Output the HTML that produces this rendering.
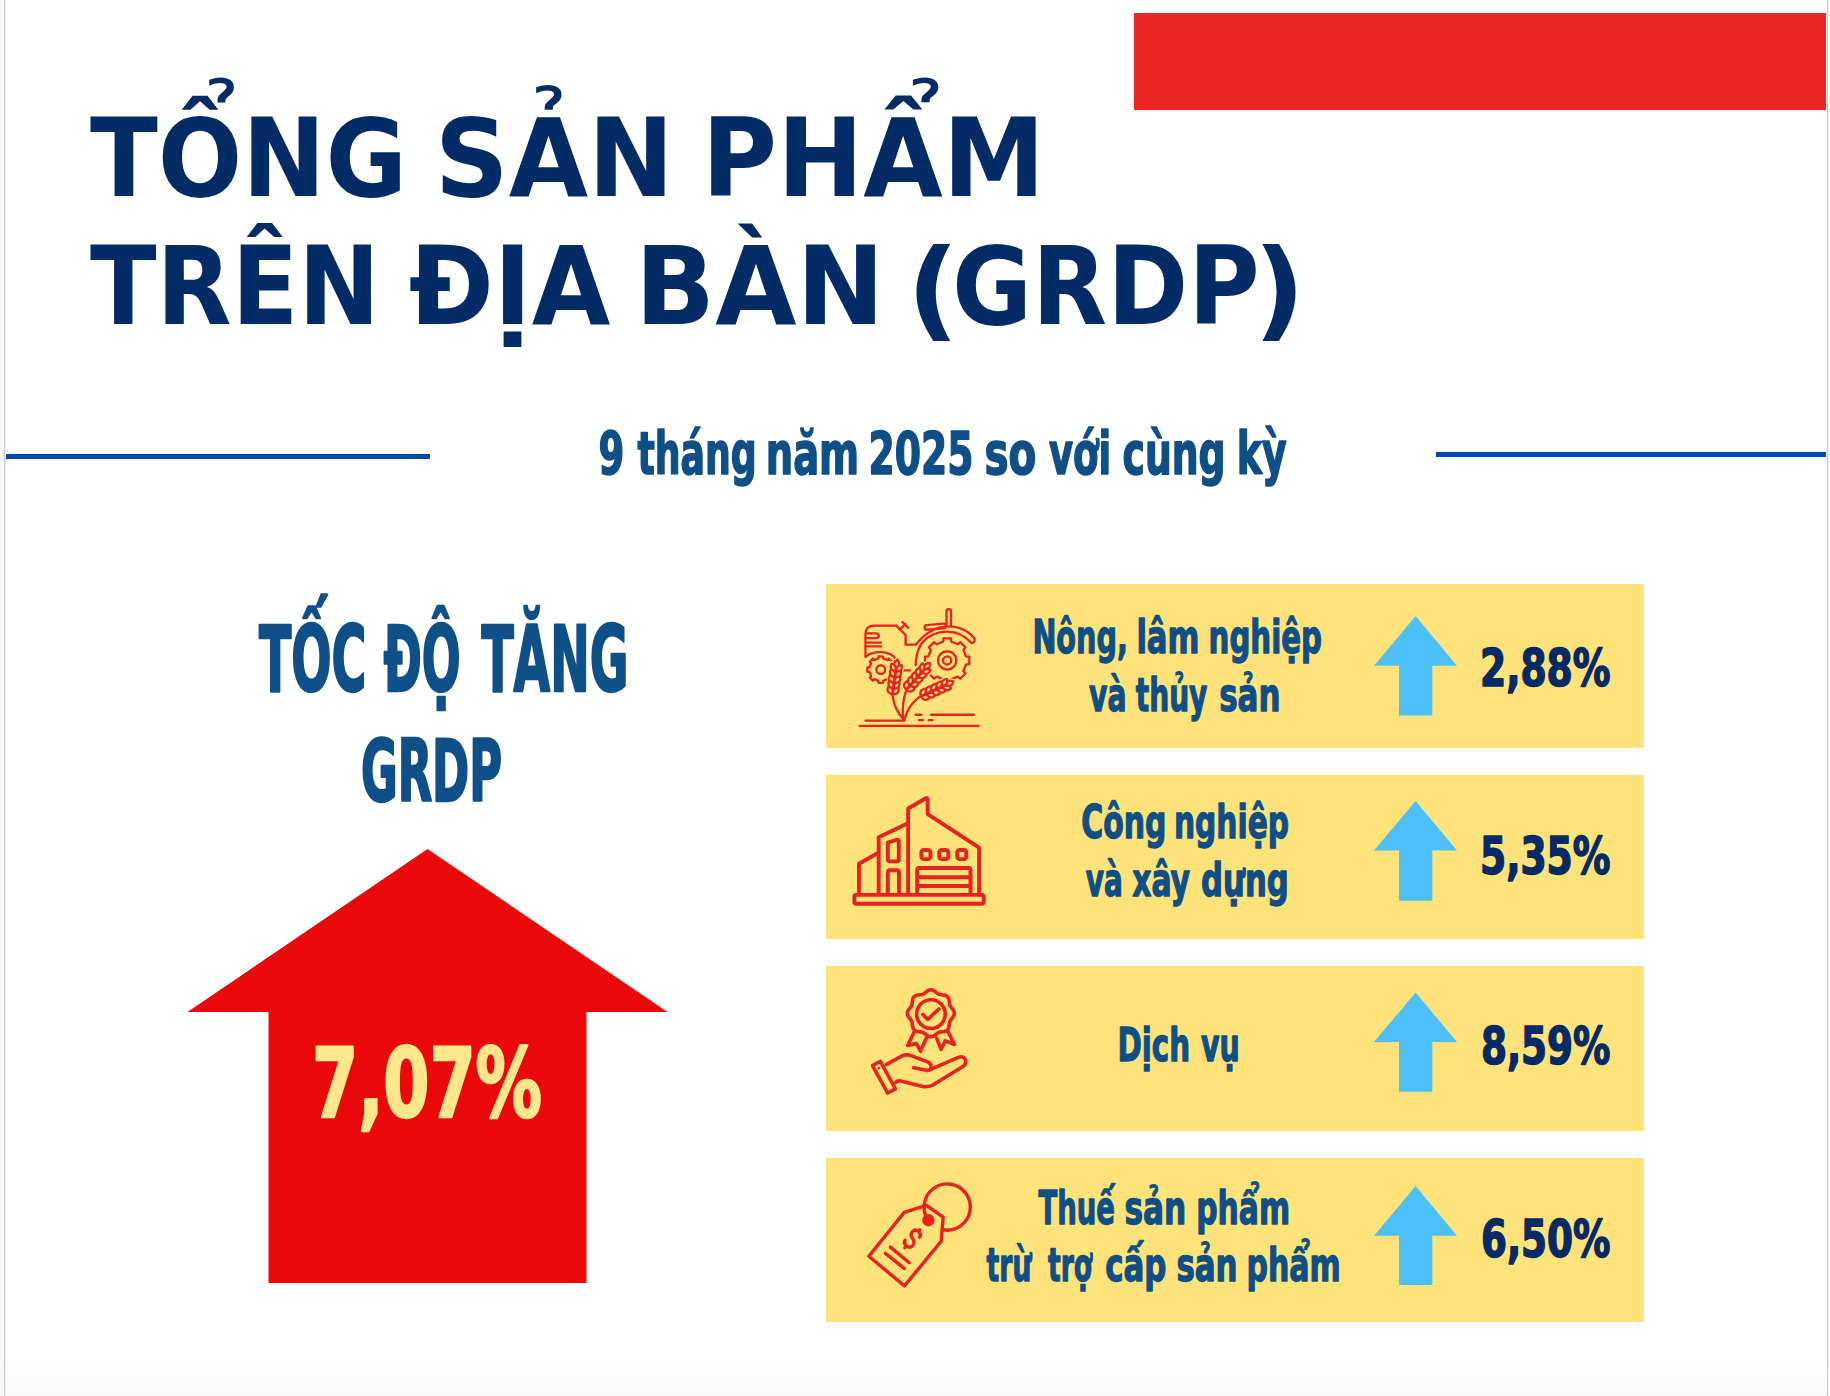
<!DOCTYPE html>
<html lang="vi">
<head>
<meta charset="utf-8">
<title>Tổng sản phẩm trên địa bàn (GRDP)</title>
<style>
html,body{margin:0;padding:0;}
body{width:1830px;height:1396px;overflow:hidden;background:#f7f7f7;position:relative;}
#page{position:absolute;left:5px;top:0;width:1822px;height:1396px;background:linear-gradient(#fff 0,#fff 1362px,#f9f9f9 1396px);}
.edge{position:absolute;top:0;width:1px;height:1396px;background:#c9c9c9;}
.edge2{position:absolute;top:0;width:1px;height:1396px;background:#f3f3f3;}
svg{position:absolute;left:0;top:0;}
.ti{font-family:"DejaVu Sans","Liberation Sans",sans-serif;font-weight:700;fill:#032b66;}
.cn{font-family:"DejaVu Sans","Liberation Sans",sans-serif;font-weight:700;font-stretch:condensed;}
</style>
</head>
<body>
<div id="page"></div>
<div class="edge" style="left:4px"></div>
<div class="edge2" style="left:5px"></div>
<div class="edge" style="left:1827px"></div>
<svg width="1830" height="1396" viewBox="0 0 1830 1396">
  <!-- red header bar -->
  <rect x="1134" y="13" width="692" height="97" fill="#ec2624"/>
  <!-- subtitle lines -->
  <rect x="6" y="454" width="424" height="5" fill="#004aad"/>
  <rect x="1436" y="452" width="390" height="5" fill="#004aad"/>

  <!-- left block -->
  <polygon points="427.5,849 187.5,1012 268.5,1012 268.5,1283 586.5,1283 586.5,1012 667.5,1012" fill="#eb0808"/>

  <!-- cards -->
  <rect x="826" y="584" width="818" height="164" fill="#fee37a"/>
  <rect x="826" y="775" width="818" height="164" fill="#fee37a"/>
  <rect x="826" y="966" width="818" height="165" fill="#fee37a"/>
  <rect x="826" y="1158" width="818" height="164" fill="#fee37a"/>

  <!-- blue arrows -->
  <polygon points="1415.6,616 1374,665.7 1399,665.7 1399,715.5 1432.3,715.5 1432.3,665.7 1457,665.7" fill="#4dc0fa"/>
  <polygon points="1415.6,801 1374,850.5 1399,850.5 1399,900.7 1432.3,900.7 1432.3,850.5 1457,850.5" fill="#4dc0fa"/>
  <polygon points="1415.6,992.5 1374,1042 1399,1042 1399,1091.7 1432.3,1091.7 1432.3,1042 1457,1042" fill="#4dc0fa"/>
  <polygon points="1415.6,1186 1374,1235.7 1399,1235.7 1399,1285 1432.3,1285 1432.3,1235.7 1457,1235.7" fill="#4dc0fa"/>

  <!-- ICONS -->
<g transform="translate(850,600) scale(0.09668)" fill="none" stroke="#e8231f" stroke-width="24" stroke-linecap="round" stroke-linejoin="round">
<path d="M100,1302 L1330,1302"/>
<path d="M160,1247 L565,1247"/>
<path d="M678,1187 L738,1187 M838,1187 L1280,1187 M714,1243 L756,1243 M814,1243 L853,1243"/>
<path d="M176,345 L268,345 Q298,345 298,370 Q298,395 268,395 L176,395 M176,440 L322,440 M176,480 L322,480"/>
<path d="M522,300 L572,250 M542,228 L602,288"/>
<path d="M964,429L967,396L1043,396L1046,429L1114,458L1140,436L1194,490L1172,516L1201,584L1234,587L1234,663L1201,666L1172,734L1194,760L1140,814L1114,792L1046,821L1043,854L967,854L964,821L896,792L870,814L816,760L838,734L809,666L776,663L776,587L809,584L838,516L816,490L870,436L896,458Z"/>
<circle cx="1005" cy="625" r="95"/>
<circle cx="1005" cy="625" r="42"/>
<path d="M294,604L295,582L341,582L342,604L383,621L399,606L432,639L417,655L434,696L456,697L456,743L434,744L417,785L432,801L399,834L383,819L342,836L341,858L295,858L294,836L253,819L237,834L204,801L219,785L202,744L180,743L180,697L202,696L219,655L204,639L237,606L253,621Z"/>
<circle cx="318" cy="720" r="45"/>
<path d="M545,728 L620,728"/>
<path d="M680,462 C760,360 880,275 1019,272 C1130,270 1235,325 1287,400 Q1300,440 1258,446 C1195,380 1105,328 1007,328 C880,328 770,390 722,480 C692,540 680,605 680,675" stroke="#fee37a" stroke-width="64"/>
<path d="M160,588 C240,520 410,520 470,605" stroke="#fee37a" stroke-width="64"/>
<path d="M160,588 L160,355 Q160,265 252,265 L478,265 L575,362 L575,462 L680,462 C760,360 880,275 1019,272 C1130,270 1235,325 1287,400 Q1300,440 1258,446 C1195,380 1105,328 1007,328 C880,328 770,390 722,480 C692,540 680,605 680,675"/>
<rect x="772" y="252" width="218" height="48" rx="24" transform="rotate(-5 880 276)"/>
<path d="M998,262 L998,118 Q998,95 1021,95 Q1045,95 1045,118 L1045,262"/>
<path d="M160,588 C240,520 410,520 470,605"/>

<g>
<path d="M433,974 Q462,912 397,893 Q367,955 433,974ZM446,976 Q514,975 502,908 Q434,908 446,976ZM441,915 Q471,854 405,835 Q376,896 441,915ZM454,917 Q522,917 511,849 Q443,850 454,917ZM449,856 Q479,795 413,776 Q384,837 449,856ZM462,858 Q531,858 519,791 Q451,791 462,858ZM457,798 Q487,736 422,717 Q392,778 457,798ZM471,799 Q539,799 527,732 Q459,732 471,799ZM466,739 Q495,677 430,658 Q400,720 466,739ZM479,741 Q547,740 535,673 Q467,674 479,741ZM477,704 Q535,667 490,616 Q432,653 477,704Z" stroke="#fee37a" stroke-width="50" fill="#fee37a"/><path d="M577,924 Q636,889 592,837 Q533,872 577,924ZM587,932 Q644,970 671,908 Q615,870 587,932ZM618,878 Q676,843 632,791 Q574,826 618,878ZM628,887 Q684,924 712,862 Q655,825 628,887ZM658,833 Q717,798 673,746 Q614,780 658,833ZM668,841 Q725,879 752,817 Q695,779 668,841ZM698,787 Q757,752 713,700 Q654,735 698,787ZM708,796 Q765,833 793,771 Q736,734 708,796ZM739,741 Q797,707 753,655 Q695,689 739,741ZM749,750 Q806,788 833,725 Q776,688 749,750ZM769,718 Q837,719 827,652 Q759,650 769,718Z" stroke="#fee37a" stroke-width="50" fill="#fee37a"/><path d="M732,990 Q799,982 781,916 Q713,924 732,990ZM737,1002 Q774,1059 825,1013 Q788,956 737,1002ZM787,964 Q855,957 836,891 Q768,899 787,964ZM793,977 Q829,1034 880,988 Q843,931 793,977ZM842,939 Q910,932 891,866 Q823,874 842,939ZM848,952 Q885,1009 935,963 Q898,906 848,952ZM898,914 Q965,906 946,841 Q879,849 898,914ZM903,927 Q940,984 990,938 Q954,881 903,927ZM953,889 Q1021,881 1002,816 Q934,824 953,889ZM958,901 Q995,959 1046,913 Q1009,856 958,901ZM990,880 Q1051,909 1070,843 Q1008,814 990,880Z" stroke="#fee37a" stroke-width="50" fill="#fee37a"/>
<path d="M440,985 Q455,1130 555,1238"/>
<path d="M578,945 Q535,1070 550,1238"/>
<path d="M722,1000 Q600,1090 562,1238"/>
<path d="M433,974 Q462,912 397,893 Q367,955 433,974ZM446,976 Q514,975 502,908 Q434,908 446,976ZM441,915 Q471,854 405,835 Q376,896 441,915ZM454,917 Q522,917 511,849 Q443,850 454,917ZM449,856 Q479,795 413,776 Q384,837 449,856ZM462,858 Q531,858 519,791 Q451,791 462,858ZM457,798 Q487,736 422,717 Q392,778 457,798ZM471,799 Q539,799 527,732 Q459,732 471,799ZM466,739 Q495,677 430,658 Q400,720 466,739ZM479,741 Q547,740 535,673 Q467,674 479,741ZM477,704 Q535,667 490,616 Q432,653 477,704Z" fill="#fee37a"/><path d="M577,924 Q636,889 592,837 Q533,872 577,924ZM587,932 Q644,970 671,908 Q615,870 587,932ZM618,878 Q676,843 632,791 Q574,826 618,878ZM628,887 Q684,924 712,862 Q655,825 628,887ZM658,833 Q717,798 673,746 Q614,780 658,833ZM668,841 Q725,879 752,817 Q695,779 668,841ZM698,787 Q757,752 713,700 Q654,735 698,787ZM708,796 Q765,833 793,771 Q736,734 708,796ZM739,741 Q797,707 753,655 Q695,689 739,741ZM749,750 Q806,788 833,725 Q776,688 749,750ZM769,718 Q837,719 827,652 Q759,650 769,718Z" fill="#fee37a"/><path d="M732,990 Q799,982 781,916 Q713,924 732,990ZM737,1002 Q774,1059 825,1013 Q788,956 737,1002ZM787,964 Q855,957 836,891 Q768,899 787,964ZM793,977 Q829,1034 880,988 Q843,931 793,977ZM842,939 Q910,932 891,866 Q823,874 842,939ZM848,952 Q885,1009 935,963 Q898,906 848,952ZM898,914 Q965,906 946,841 Q879,849 898,914ZM903,927 Q940,984 990,938 Q954,881 903,927ZM953,889 Q1021,881 1002,816 Q934,824 953,889ZM958,901 Q995,959 1046,913 Q1009,856 958,901ZM990,880 Q1051,909 1070,843 Q1008,814 990,880Z" fill="#fee37a"/>
</g>
</g>
<g transform="translate(845,785) scale(0.09311)" fill="none" stroke="#e8231f" stroke-width="42" stroke-linecap="round" stroke-linejoin="round">
<rect x="100" y="1180" width="1390" height="96" rx="22"/>
<path d="M150,1170 L150,845 L340,738"/>
<path d="M362,1170 L362,560 L660,418"/>
<path d="M678,1170 L678,252 L868,142 Q888,135 888,160 L888,312 L1440,672 L1440,1170"/>
<path d="M460,618 L556,588 Q578,582 578,606 L578,800 Q578,820 556,820 L482,820 Q460,820 460,800 Z"/>
<path d="M460,1170 L460,940 Q460,915 485,915 L555,915 Q580,915 580,940 L580,1170"/>
<rect x="820" y="698" width="98" height="98" rx="28"/>
<rect x="1012" y="698" width="98" height="98" rx="28"/>
<rect x="1205" y="698" width="98" height="98" rx="28"/>
<path d="M775,1170 L775,915 Q775,892 798,892 L1325,892 Q1348,892 1348,915 L1348,1170 M775,990 L1348,990 M775,1085 L1348,1085"/>
</g>
<g transform="translate(860,980) scale(0.08955)" fill="none" stroke="#e8231f" stroke-width="40" stroke-linecap="round" stroke-linejoin="round">
<path d="M791,109L808,112L824,119L839,130L853,141L866,151L879,159L894,163L910,165L928,167L946,170L963,176L977,186L987,200L993,217L996,235L998,252L1000,269L1004,284L1012,297L1022,310L1033,324L1044,339L1051,355L1054,372L1051,389L1044,405L1033,420L1022,434L1012,447L1004,460L1000,475L998,491L996,509L993,527L987,544L977,558L963,568L946,574L928,577L910,579L894,581L879,585L866,593L853,603L839,614L824,625L808,632L791,635L774,632L758,625L743,614L729,603L716,593L703,585L688,581L672,579L654,577L636,574L619,568L605,558L595,544L589,527L586,509L584,492L582,475L578,460L570,447L560,434L549,420L538,405L531,389L528,372L531,355L538,339L549,324L560,310L570,297L578,284L582,269L584,252L586,235L589,217L595,200L605,186L619,176L636,170L654,167L671,165L688,163L703,159L716,151L729,141L743,130L758,119L774,112L791,109Z"/>
<circle cx="792" cy="380" r="160"/>
<path d="M702,385 L757,440 L880,324"/>
<path d="M612,566 L533,730 L632,710 L676,796 L742,645"/>
<path d="M978,566 L1055,720 L952,680 L906,775 L856,650"/>
<path d="M140,955 L228,908 L395,1215 L308,1262 Z"/>
<circle cx="210" cy="985" r="14" fill="#e8231f" stroke="none"/>
<path d="M292,945 L470,848 Q520,825 570,845 L755,915 Q800,935 795,980 Q785,1015 740,1008 L598,980"/>
<path d="M795,995 L1105,862 Q1165,845 1180,900 Q1188,945 1150,965 L808,1175 Q760,1200 700,1190 L455,1128 Q420,1120 398,1145"/>
</g>
<g transform="translate(855,1175) scale(0.08953)" fill="none" stroke="#e8231f" stroke-width="38" stroke-linecap="round" stroke-linejoin="round">
<path d="M155,908 L550,418 L795,338 L985,470 L962,742 L552,1238 Z"/>
<circle cx="820" cy="505" r="50" fill="#e8231f"/>
<path d="M795,470 Q762,400 775,319 A258,258 0 1 1 985,612"/>
<path d="M395,805 L605,980 M340,875 L552,1045"/>
<g transform="rotate(40 645 715)">
<path d="M690,650 Q690,610 640,610 Q590,610 590,655 Q590,700 640,712 Q692,725 692,770 Q692,818 640,818 Q590,818 588,780 M640,585 L640,610 M640,818 L640,845"/>
</g>
</g>
<g class="ti" font-size="108" fill="#032b66">
<text x="90.0" y="196" textLength="317.2" lengthAdjust="spacingAndGlyphs">TỔNG</text>
<text x="434.8" y="196" textLength="239.2" lengthAdjust="spacingAndGlyphs">SẢN</text>
<text x="701.8" y="196" textLength="343.2" lengthAdjust="spacingAndGlyphs">PHẨM</text>
</g>
<g class="ti" font-size="108" fill="#032b66">
<text x="90.0" y="324" textLength="290.0" lengthAdjust="spacingAndGlyphs">TRÊN</text>
<text x="408.8" y="324" textLength="201.4" lengthAdjust="spacingAndGlyphs">ĐỊA</text>
<text x="635.0" y="324" textLength="249.6" lengthAdjust="spacingAndGlyphs">BÀN</text>
<text x="952.0" y="324" textLength="307.8" lengthAdjust="spacingAndGlyphs">GRDP</text>
</g>
<g class="ti" font-size="108" fill="#032b66">
<text x="906.6" y="327" textLength="53.0" lengthAdjust="spacingAndGlyphs">(</text>
<text x="1253.3" y="327" textLength="52.0" lengthAdjust="spacingAndGlyphs">)</text>
</g>
<g class="cn" font-size="58.8" fill="#0f4f87" stroke="#0f4f87" stroke-width="1.6" stroke-linejoin="round">
<text x="598.6" y="474.2" textLength="25.8" lengthAdjust="spacingAndGlyphs">9</text>
<text x="637.4" y="474.2" textLength="119.2" lengthAdjust="spacingAndGlyphs">tháng</text>
<text x="765.8" y="474.2" textLength="93.4" lengthAdjust="spacingAndGlyphs">năm</text>
<text x="868.6" y="474.2" textLength="105.0" lengthAdjust="spacingAndGlyphs">2025</text>
<text x="984.4" y="474.2" textLength="51.8" lengthAdjust="spacingAndGlyphs">so</text>
<text x="1049.0" y="474.2" textLength="62.2" lengthAdjust="spacingAndGlyphs">với</text>
<text x="1122.6" y="474.2" textLength="103.0" lengthAdjust="spacingAndGlyphs">cùng</text>
<text x="1236.8" y="474.2" textLength="49.8" lengthAdjust="spacingAndGlyphs">kỳ</text>
</g>
<g class="cn" font-size="90.7" fill="#0f5089" stroke="#0f5089" stroke-width="2.4" stroke-linejoin="round">
<text x="259.0" y="691" textLength="107.4" lengthAdjust="spacingAndGlyphs">TỐC</text>
<text x="383.4" y="691" textLength="77.2" lengthAdjust="spacingAndGlyphs">ĐỘ</text>
<text x="481.4" y="691" textLength="147.0" lengthAdjust="spacingAndGlyphs">TĂNG</text>
</g>
<g class="cn" font-size="84.6" fill="#0f5089" stroke="#0f5089" stroke-width="2.4" stroke-linejoin="round">
<text x="361.0" y="801" textLength="141.0" lengthAdjust="spacingAndGlyphs">GRDP</text>
</g>
<g class="cn" font-size="96" fill="#fde68c" stroke="#fde68c" stroke-width="2.4" stroke-linejoin="round">
<text x="312.0" y="1117.4" textLength="230.0" lengthAdjust="spacingAndGlyphs">7,07%</text>
</g>
<g class="cn" font-size="47" fill="#0f4f87" stroke="#0f4f87" stroke-width="1.3" stroke-linejoin="round">
<text x="1032.4" y="653.3" textLength="95.4" lengthAdjust="spacingAndGlyphs">Nông,</text>
<text x="1136.4" y="653.3" textLength="63.0" lengthAdjust="spacingAndGlyphs">lâm</text>
<text x="1208.6" y="653.3" textLength="113.4" lengthAdjust="spacingAndGlyphs">nghiệp</text>
</g>
<g class="cn" font-size="47" fill="#0f4f87" stroke="#0f4f87" stroke-width="1.3" stroke-linejoin="round">
<text x="1089.0" y="710.5" textLength="37.4" lengthAdjust="spacingAndGlyphs">và</text>
<text x="1135.8" y="710.5" textLength="71.6" lengthAdjust="spacingAndGlyphs">thủy</text>
<text x="1219.2" y="710.5" textLength="61.2" lengthAdjust="spacingAndGlyphs">sản</text>
</g>
<g class="cn" font-size="47" fill="#0f4f87" stroke="#0f4f87" stroke-width="1.3" stroke-linejoin="round">
<text x="1081.2" y="838.3" textLength="85.2" lengthAdjust="spacingAndGlyphs">Công</text>
<text x="1174.0" y="838.3" textLength="115.0" lengthAdjust="spacingAndGlyphs">nghiệp</text>
</g>
<g class="cn" font-size="47" fill="#0f4f87" stroke="#0f4f87" stroke-width="1.3" stroke-linejoin="round">
<text x="1085.8" y="896" textLength="37.0" lengthAdjust="spacingAndGlyphs">và</text>
<text x="1132.2" y="896" textLength="57.8" lengthAdjust="spacingAndGlyphs">xây</text>
<text x="1201.0" y="896" textLength="87.8" lengthAdjust="spacingAndGlyphs">dựng</text>
</g>
<g class="cn" font-size="47" fill="#0f4f87" stroke="#0f4f87" stroke-width="1.3" stroke-linejoin="round">
<text x="1117.4" y="1060.7" textLength="72.6" lengthAdjust="spacingAndGlyphs">Dịch</text>
<text x="1201.0" y="1060.7" textLength="38.8" lengthAdjust="spacingAndGlyphs">vụ</text>
</g>
<g class="cn" font-size="47" fill="#0f4f87" stroke="#0f4f87" stroke-width="1.3" stroke-linejoin="round">
<text x="1038.4" y="1224.2" textLength="76.6" lengthAdjust="spacingAndGlyphs">Thuế</text>
<text x="1124.4" y="1224.2" textLength="61.8" lengthAdjust="spacingAndGlyphs">sản</text>
<text x="1196.2" y="1224.2" textLength="93.8" lengthAdjust="spacingAndGlyphs">phẩm</text>
</g>
<g class="cn" font-size="47" fill="#0f4f87" stroke="#0f4f87" stroke-width="1.3" stroke-linejoin="round">
<text x="986.6" y="1281" textLength="44.8" lengthAdjust="spacingAndGlyphs">trừ</text>
<text x="1048.0" y="1281" textLength="44.0" lengthAdjust="spacingAndGlyphs">trợ</text>
<text x="1105.2" y="1281" textLength="61.2" lengthAdjust="spacingAndGlyphs">cấp</text>
<text x="1176.4" y="1281" textLength="61.2" lengthAdjust="spacingAndGlyphs">sản</text>
<text x="1246.6" y="1281" textLength="94.2" lengthAdjust="spacingAndGlyphs">phẩm</text>
</g>
<g class="cn" font-size="51" fill="#062a65" stroke="#062a65" stroke-width="1.5" stroke-linejoin="round">
<text x="1480.0" y="685.6" textLength="130.4" lengthAdjust="spacingAndGlyphs">2,88%</text>
</g>
<g class="cn" font-size="51" fill="#062a65" stroke="#062a65" stroke-width="1.5" stroke-linejoin="round">
<text x="1480.0" y="874" textLength="130.4" lengthAdjust="spacingAndGlyphs">5,35%</text>
</g>
<g class="cn" font-size="51" fill="#062a65" stroke="#062a65" stroke-width="1.5" stroke-linejoin="round">
<text x="1481.0" y="1063.8" textLength="129.4" lengthAdjust="spacingAndGlyphs">8,59%</text>
</g>
<g class="cn" font-size="51" fill="#062a65" stroke="#062a65" stroke-width="1.5" stroke-linejoin="round">
<text x="1481.0" y="1256.6" textLength="129.4" lengthAdjust="spacingAndGlyphs">6,50%</text>
</g>
</svg>
</body>
</html>
